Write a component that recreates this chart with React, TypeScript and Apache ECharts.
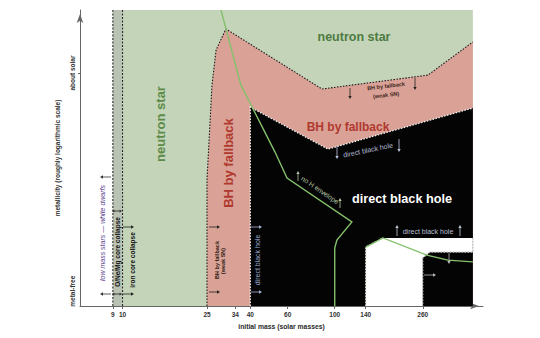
import React, { useEffect, useRef } from 'react';
import * as echarts from 'echarts';

// Initial-mass axis marks (solar masses)
const massTicks = [9, 10, 25, 34, 40, 60, 100, 140, 260];
// Metallicity on a relative 0 (metal-free) .. 100 (top of diagram) scale
const metallicityTicks = [78.7];
const metallicityLabelValues = [5, 78.7];
const metallicityLabels = ['metal-free', 'about solar'];

const massRange = [6.3, 500];
const massModelEnd = 448;
const zTop = 100;

// Mass limits of the low-mass stars and O/Ne/Mg core collapse
const whiteDwarfLimit = 9;
const ironCoreLimit = 10;

// Neutron star | black hole by fallback boundary, [mass, metallicity]
const neutronStarEdge = [
  [25, 0], [25, 42.6], [26.4, 74.7], [27.6, 86.5], [30.7, 93.6],
  [87.1, 73.3], [275, 78.0], [448, 89.2],
];
// Fallback | direct black hole boundary
const directCollapseEdge = [[40, 0], [40, 67.2], [92.9, 53.0], [448, 66.9]];
// Pair-instability (no remnant) region outline
const pairInstabilityEdge = [
  [140, 0], [140, 19.9], [168.7, 23.0], [448, 23.0], [448, 18.2],
  [280.8, 18.2], [260, 16.2], [260, 0],
];
// Loss of the hydrogen envelope
const hydrogenLossLine = [
  [29.1, 100], [36.1, 74.7], [52.3, 52.0], [59.6, 43.2], [120.5, 28.4],
  [102.4, 22.3], [100, 19.6], [100, 0],
];
const hydrogenLossLineHigh = [
  [140, 19.9], [168.7, 23.0], [271.9, 17.2], [341.6, 15.5], [448, 14.9],
];

const FONT = '"Liberation Sans", Arial, Helvetica, sans-serif';
const GREEN = '#c4d4b9';
const BAND = '#b9c2b3';
const PINK = '#daa297';
const BLACK = '#040404';

type Pt = number[];

const renderDiagram = (_params: any, api: any) => {
  const px = (pts: Pt[]) => pts.map((p) => api.coord(p));
  const poly = (pts: Pt[], fill: string) => ({
    type: 'polygon', shape: { points: px(pts) }, style: { fill },
  });
  const line = (pts: Pt[], stroke: string, lineWidth: number, lineDash?: number[]) => ({
    type: 'polyline', shape: { points: px(pts) },
    style: { stroke, lineWidth, lineDash, fill: null },
  });
  const closeRight = (edge: Pt[]) => [...edge, [massModelEnd, 0]];
  return {
    type: 'group',
    children: [
      poly([[whiteDwarfLimit, 0], [whiteDwarfLimit, zTop], [ironCoreLimit, zTop], [ironCoreLimit, 0]], BAND),
      poly([[ironCoreLimit, 0], [ironCoreLimit, zTop], [massModelEnd, zTop], [massModelEnd, 0]], GREEN),
      poly(closeRight(neutronStarEdge), PINK),
      poly(closeRight(directCollapseEdge), BLACK),
      poly(pairInstabilityEdge, '#ffffff'),
      line([[whiteDwarfLimit, 0], [whiteDwarfLimit, zTop]], '#1a1a1a', 1, [2, 1.5]),
      line([[ironCoreLimit, 0], [ironCoreLimit, zTop]], '#1a1a1a', 1, [2, 1.5]),
      line(neutronStarEdge, '#1a1a1a', 1.1, [1.5, 1.5]),
      line(directCollapseEdge, '#f2f2f2', 1.3, [1.5, 1.5]),
      line(pairInstabilityEdge.slice(0, 3), '#cfd8c8', 1.3, [1.5, 1.5]),
      line(pairInstabilityEdge.slice(3), '#bdbdbd', 1.3, [1.5, 1.5]),
      line(hydrogenLossLine, '#85c06c', 1.4),
      line(hydrogenLossLineHigh, '#85c06c', 1.4),
    ],
  };
};

const text = (
  t: string, x: number, y: number, size: number, fill: string,
  o: { rotation?: number; weight?: string; italic?: boolean } = {},
) => ({
  type: 'text', x, y, rotation: o.rotation || 0, z: 20, silent: true,
  style: {
    text: t, fill, fontSize: size, fontFamily: FONT,
    fontWeight: o.weight || 'bold', fontStyle: o.italic ? 'italic' : 'normal',
    align: 'center', verticalAlign: 'middle',
  },
});

const arrow = (x1: number, y1: number, x2: number, y2: number, color: string, head = 3) => {
  const a = Math.atan2(y2 - y1, x2 - x1);
  const hx = x2 - head * Math.cos(a);
  const hy = y2 - head * Math.sin(a);
  const w = head * 0.55;
  const ox = -Math.sin(a) * w;
  const oy = Math.cos(a) * w;
  return [
    { type: 'line', z: 20, silent: true, shape: { x1, y1, x2: hx, y2: hy }, style: { stroke: color, lineWidth: 0.8 } },
    { type: 'polygon', z: 20, silent: true, shape: { points: [[x2, y2], [hx + ox, hy + oy], [hx - ox, hy - oy]] }, style: { fill: color } },
  ];
};

const V = Math.PI / 2;

const annotations = [
  text('neutron star', 354, 37, 12.5, '#4d7b41'),
  text('neutron star', 160, 124, 13, '#5c8b48', { rotation: V }),
  text('BH by fallback', 348, 127, 12, '#b0392e'),
  text('BH by fallback', 228, 163, 13, '#b0392e', { rotation: V }),
  text('direct black hole', 402, 199, 12.7, '#ffffff'),
  text('BH by fallback', 386, 86, 5.5, '#3a2418', { rotation: 0.12 }),
  text('(weak SN)', 386, 95, 5.5, '#3a2418', { rotation: 0.12 }),
  text('direct black hole', 368, 150, 7, '#b4bcd4', { rotation: 0.2, weight: 'normal' }),
  text('no H envelope', 320, 190, 6.8, '#b5c8a6', { rotation: -0.6, weight: 'normal' }),
  text('direct black hole', 428, 231, 7, '#b8bfd0', { weight: 'normal' }),
  text('BH by fallback', 217, 260, 5.5, '#2a1a10', { rotation: V }),
  text('(weak SN)', 223, 261, 5.5, '#2a1a10', { rotation: V }),
  text('direct black hole', 257, 260, 7, '#9eaad2', { rotation: V, weight: 'normal' }),
  text('low mass stars \u2014 white dwarfs', 102, 233, 7, '#5a3d8c', { rotation: V, weight: 'normal', italic: true }),
  text('O/Ne/Mg core collapse', 117, 252, 6.5, '#111111', { rotation: V }),
  text('iron core collapse', 132, 260, 6.5, '#111111', { rotation: V }),
  ...arrow(111, 177, 100, 177, '#333'),
  ...arrow(117, 211, 112, 211, '#222', 2.5),
  ...arrow(117, 211, 122, 211, '#222', 2.5),
  ...arrow(123, 227, 134, 227, '#222'),
  ...arrow(111, 294, 100, 294, '#333'),
  ...arrow(117, 294, 112, 294, '#222', 2.5),
  ...arrow(117, 294, 122, 294, '#222', 2.5),
  ...arrow(123, 294, 134, 294, '#222'),
  ...arrow(209, 227, 220, 227, '#222'),
  ...arrow(209, 292, 220, 292, '#222'),
  ...arrow(251, 227, 262, 227, '#aab4d8'),
  ...arrow(251, 292, 262, 292, '#aab4d8'),
  ...arrow(350, 88, 350, 99, '#222'),
  ...arrow(415, 78, 415, 90, '#222'),
  ...arrow(337, 146, 337, 159, '#c0c8e0'),
  ...arrow(399, 139, 399, 152, '#c0c8e0'),
  ...arrow(298, 181, 298, 171, '#b5c8a6'),
  ...arrow(340, 208, 340, 198, '#b5c8a6'),
  ...arrow(397, 236, 397, 225, '#c0c8d8'),
  ...arrow(460, 236, 460, 225, '#c0c8d8'),
  ...arrow(449, 253, 449, 264, '#bbbbbb'),
  ...arrow(424, 275, 436, 275, '#bbbbbb'),
];

const axisText = { fontSize: 6.5, fontWeight: 'bold', color: '#333333', fontFamily: FONT };

export default function App() {
  const ref = useRef<HTMLDivElement>(null);
  useEffect(() => {
    if (!ref.current) return;
    const chart = echarts.init(ref.current, undefined, { renderer: 'svg' });
    chart.setOption({
      animation: false,
      backgroundColor: '#ffffff',
      textStyle: { color: '#333333', fontFamily: FONT },
      grid: { left: 80, right: 57, top: 10, bottom: 32 },
      xAxis: {
        type: 'log',
        logBase: 10,
        min: massRange[0],
        max: massRange[1],
        name: '{n|initial mass (solar masses)}',
        nameLocation: 'middle',
        nameGap: 16,
        nameTextStyle: {
          color: '#2b2b2b', fontSize: 6.8, fontWeight: 'bold', fontFamily: FONT,
          rich: {
            n: { color: '#2b2b2b', fontSize: 6.8, fontWeight: 'bold', fontFamily: FONT },
          },
        },
        axisLine: {
          show: true, symbol: ['none', 'arrow'], symbolSize: [5, 9], symbolOffset: [0, -4],
          lineStyle: { color: '#666', width: 1 },
        },
        axisTick: { show: true, customValues: massTicks, length: 3, lineStyle: { color: '#666' } },
        axisLabel: { show: true, customValues: massTicks, margin: 5, ...axisText },
        splitLine: { show: false },
        minorTick: { show: false },
      },
      yAxis: {
        type: 'value',
        min: 0,
        max: zTop,
        name: 'metallicity (roughly logarithmic scale)',
        nameLocation: 'middle',
        nameRotate: 90,
        nameGap: 19,
        nameTextStyle: {
          color: '#333333', fontSize: 6.5, fontWeight: 'bold', fontFamily: FONT,
        },
        axisLine: {
          show: true, symbol: ['none', 'arrow'], symbolSize: [5, 9], symbolOffset: [0, -4],
          lineStyle: { color: '#666', width: 1 },
        },
        axisTick: { show: true, customValues: metallicityTicks, length: 2, lineStyle: { color: '#666' } },
        axisLabel: {
          show: true,
          customValues: metallicityLabelValues,
          rotate: 90,
          margin: 4,
          ...axisText,
          formatter: (v: number) => {
            let best = 0;
            metallicityLabelValues.forEach((m, i) => {
              if (Math.abs(m - v) < Math.abs(metallicityLabelValues[best] - v)) best = i;
            });
            return metallicityLabels[best];
          },
        },
        splitLine: { show: false },
      },
      series: [
        {
          type: 'custom',
          coordinateSystem: 'cartesian2d',
          renderItem: renderDiagram,
          data: [[20, 50]],
          silent: true,
          z: 2,
        },
      ],
      graphic: annotations,
    });
    return () => chart.dispose();
  }, []);
  return (
    <div
      ref={ref}
      style={{ position: 'fixed', left: 0, top: 0, width: 540, height: 338, background: '#fff' }}
    />
  );
}
